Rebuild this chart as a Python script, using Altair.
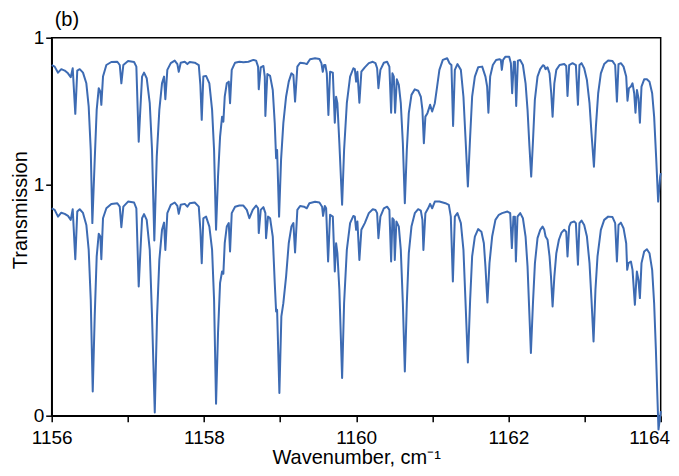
import altair as alt
import pandas as pd

# Lower spectrum: wavenumber (cm-1) and transmission
wn_lower = [1156.000, 1156.039, 1156.083, 1156.126, 1156.171, 1156.214, 1156.250, 1156.276, 1156.310, 1156.336,
            1156.368, 1156.411, 1156.455, 1156.486, 1156.513, 1156.539, 1156.565, 1156.591, 1156.618, 1156.639,
            1156.652, 1156.674, 1156.718, 1156.783, 1156.862, 1156.894, 1156.915, 1156.941, 1157.003, 1157.082,
            1157.112, 1157.143, 1157.164, 1157.187, 1157.213, 1157.248, 1157.288, 1157.318, 1157.354, 1157.384,
            1157.414, 1157.449, 1157.476, 1157.493, 1157.519, 1157.564, 1157.616, 1157.651, 1157.669, 1157.695,
            1157.748, 1157.782, 1157.813, 1157.879, 1157.932, 1157.953, 1157.971, 1157.992, 1158.028, 1158.071,
            1158.107, 1158.133, 1158.159, 1158.185, 1158.212, 1158.238, 1158.255, 1158.273, 1158.300, 1158.326,
            1158.343, 1158.365, 1158.409, 1158.465, 1158.518, 1158.563, 1158.597, 1158.641, 1158.685, 1158.711,
            1158.720, 1158.746, 1158.781, 1158.807, 1158.816, 1158.842, 1158.869, 1158.904, 1158.930, 1158.948,
            1158.961, 1158.991, 1159.017, 1159.043, 1159.079, 1159.114, 1159.149, 1159.175, 1159.197, 1159.227,
            1159.263, 1159.315, 1159.351, 1159.385, 1159.460, 1159.517, 1159.552, 1159.565, 1159.588, 1159.605,
            1159.631, 1159.657, 1159.693, 1159.719, 1159.736, 1159.753, 1159.779, 1159.815, 1159.841, 1159.877,
            1159.920, 1159.963, 1159.982, 1159.999, 1160.016, 1160.042, 1160.068, 1160.113, 1160.166, 1160.218,
            1160.253, 1160.275, 1160.292, 1160.318, 1160.363, 1160.406, 1160.436, 1160.459, 1160.476, 1160.494,
            1160.507, 1160.528, 1160.560, 1160.586, 1160.613, 1160.639, 1160.665, 1160.691, 1160.726, 1160.770,
            1160.814, 1160.849, 1160.870, 1160.883, 1160.909, 1160.945, 1160.971, 1160.998, 1161.033, 1161.093,
            1161.172, 1161.217, 1161.243, 1161.270, 1161.296, 1161.330, 1161.375, 1161.409, 1161.435, 1161.467,
            1161.497, 1161.523, 1161.559, 1161.602, 1161.645, 1161.677, 1161.698, 1161.724, 1161.751, 1161.786,
            1161.829, 1161.874, 1161.917, 1161.987, 1162.023, 1162.045, 1162.066, 1162.085, 1162.098, 1162.119,
            1162.155, 1162.190, 1162.225, 1162.251, 1162.273, 1162.295, 1162.322, 1162.348, 1162.382, 1162.418,
            1162.448, 1162.471, 1162.488, 1162.514, 1162.540, 1162.559, 1162.580, 1162.603, 1162.629, 1162.663,
            1162.697, 1162.733, 1162.759, 1162.776, 1162.798, 1162.820, 1162.864, 1162.886, 1162.913, 1162.933,
            1162.960, 1162.995, 1163.031, 1163.065, 1163.091, 1163.118, 1163.143, 1163.170, 1163.214, 1163.258,
            1163.310, 1163.367, 1163.402, 1163.425, 1163.446, 1163.477, 1163.512, 1163.547, 1163.560, 1163.577,
            1163.609, 1163.630, 1163.661, 1163.687, 1163.708, 1163.727, 1163.748, 1163.783, 1163.819, 1163.853,
            1163.888, 1163.914, 1163.937, 1163.958, 1163.971, 1163.993, 1164.003]
t_lower = [0.896, 0.889, 0.860, 0.877, 0.872, 0.863, 0.846, 0.892, 0.676, 0.882,
           0.892, 0.876, 0.824, 0.716, 0.501, 0.105, 0.429, 0.688, 0.786, 0.774,
           0.676, 0.853, 0.896, 0.915, 0.918, 0.903, 0.814, 0.903, 0.925, 0.921,
           0.896, 0.558, 0.702, 0.853, 0.871, 0.846, 0.716, 0.429, 0.014, 0.429,
           0.673, 0.803, 0.834, 0.716, 0.875, 0.911, 0.921, 0.906, 0.872, 0.911,
           0.915, 0.903, 0.918, 0.921, 0.903, 0.803, 0.659, 0.853, 0.860, 0.817,
           0.716, 0.501, 0.052, 0.358, 0.574, 0.623, 0.613, 0.745, 0.817, 0.832,
           0.709, 0.875, 0.903, 0.908, 0.908, 0.889, 0.853, 0.889, 0.908, 0.896,
           0.789, 0.889, 0.901, 0.875, 0.767, 0.860, 0.853, 0.774, 0.573, 0.450,
           0.457, 0.098, 0.429, 0.486, 0.601, 0.745, 0.817, 0.832, 0.705, 0.889,
           0.906, 0.903, 0.896, 0.918, 0.924, 0.921, 0.903, 0.863, 0.906, 0.896,
           0.666, 0.868, 0.860, 0.623, 0.745, 0.702, 0.544, 0.163, 0.486, 0.716,
           0.832, 0.863, 0.860, 0.803, 0.839, 0.673, 0.803, 0.832, 0.875, 0.892,
           0.889, 0.875, 0.767, 0.860, 0.896, 0.903, 0.889, 0.666, 0.853, 0.846,
           0.673, 0.839, 0.817, 0.716, 0.486, 0.191, 0.486, 0.702, 0.817, 0.875,
           0.892, 0.886, 0.846, 0.716, 0.875, 0.896, 0.915, 0.896, 0.925, 0.925,
           0.918, 0.911, 0.860, 0.580, 0.860, 0.875, 0.832, 0.716, 0.501, 0.230,
           0.501, 0.688, 0.774, 0.806, 0.795, 0.745, 0.644, 0.489, 0.659, 0.774,
           0.846, 0.868, 0.875, 0.882, 0.875, 0.724, 0.860, 0.860, 0.666, 0.860,
           0.875, 0.853, 0.774, 0.644, 0.457, 0.271, 0.486, 0.659, 0.767, 0.803,
           0.817, 0.803, 0.774, 0.760, 0.688, 0.601, 0.472, 0.601, 0.702, 0.760,
           0.791, 0.803, 0.795, 0.688, 0.817, 0.834, 0.839, 0.832, 0.652, 0.832,
           0.843, 0.824, 0.774, 0.659, 0.501, 0.321, 0.544, 0.688, 0.803, 0.846,
           0.860, 0.858, 0.832, 0.666, 0.824, 0.834, 0.810, 0.745, 0.630, 0.659,
           0.666, 0.630, 0.479, 0.623, 0.587, 0.508, 0.659, 0.709, 0.719, 0.702,
           0.630, 0.486, 0.285, 0.069, -0.060, -0.003, 0.020]

# Upper spectrum: wavenumber (cm-1) and transmission (drawn with an offset)
wn_upper = [1156.000, 1156.039, 1156.083, 1156.126, 1156.171, 1156.214, 1156.250, 1156.276, 1156.310, 1156.336,
            1156.368, 1156.411, 1156.455, 1156.486, 1156.513, 1156.534, 1156.547, 1156.565, 1156.591, 1156.618,
            1156.639, 1156.652, 1156.674, 1156.718, 1156.783, 1156.862, 1156.894, 1156.915, 1156.941, 1157.003,
            1157.082, 1157.112, 1157.143, 1157.164, 1157.187, 1157.213, 1157.248, 1157.288, 1157.318, 1157.348,
            1157.380, 1157.414, 1157.449, 1157.476, 1157.493, 1157.519, 1157.564, 1157.616, 1157.651, 1157.669,
            1157.695, 1157.748, 1157.782, 1157.813, 1157.879, 1157.932, 1157.953, 1157.971, 1157.992, 1158.028,
            1158.071, 1158.107, 1158.133, 1158.159, 1158.185, 1158.212, 1158.238, 1158.255, 1158.273, 1158.300,
            1158.326, 1158.343, 1158.365, 1158.409, 1158.465, 1158.518, 1158.584, 1158.649, 1158.685, 1158.711,
            1158.720, 1158.746, 1158.781, 1158.799, 1158.807, 1158.833, 1158.869, 1158.904, 1158.930, 1158.948,
            1158.961, 1158.987, 1159.013, 1159.043, 1159.079, 1159.114, 1159.149, 1159.175, 1159.197, 1159.227,
            1159.263, 1159.315, 1159.351, 1159.394, 1159.460, 1159.517, 1159.543, 1159.561, 1159.578, 1159.595,
            1159.614, 1159.635, 1159.657, 1159.693, 1159.719, 1159.736, 1159.753, 1159.779, 1159.815, 1159.841,
            1159.877, 1159.920, 1159.963, 1159.982, 1159.999, 1160.016, 1160.042, 1160.068, 1160.113, 1160.166,
            1160.218, 1160.253, 1160.275, 1160.292, 1160.318, 1160.363, 1160.406, 1160.436, 1160.459, 1160.476,
            1160.494, 1160.511, 1160.534, 1160.560, 1160.586, 1160.613, 1160.639, 1160.665, 1160.691, 1160.726,
            1160.770, 1160.814, 1160.849, 1160.870, 1160.889, 1160.909, 1160.936, 1160.971, 1160.998, 1161.033,
            1161.063, 1161.093, 1161.138, 1161.195, 1161.225, 1161.251, 1161.273, 1161.296, 1161.330, 1161.375,
            1161.409, 1161.435, 1161.467, 1161.497, 1161.523, 1161.559, 1161.602, 1161.655, 1161.698, 1161.720,
            1161.737, 1161.760, 1161.795, 1161.838, 1161.882, 1161.900, 1161.913, 1161.930, 1161.961, 1162.010,
            1162.032, 1162.049, 1162.071, 1162.085, 1162.102, 1162.124, 1162.154, 1162.190, 1162.225, 1162.251,
            1162.276, 1162.299, 1162.321, 1162.347, 1162.382, 1162.417, 1162.453, 1162.470, 1162.487, 1162.514,
            1162.540, 1162.562, 1162.580, 1162.603, 1162.629, 1162.672, 1162.733, 1162.759, 1162.776, 1162.798,
            1162.842, 1162.886, 1162.913, 1162.933, 1162.960, 1162.995, 1163.031, 1163.065, 1163.091, 1163.123,
            1163.149, 1163.179, 1163.214, 1163.258, 1163.310, 1163.367, 1163.402, 1163.425, 1163.446, 1163.477,
            1163.512, 1163.547, 1163.564, 1163.583, 1163.609, 1163.630, 1163.652, 1163.669, 1163.688, 1163.709,
            1163.727, 1163.748, 1163.783, 1163.819, 1163.853, 1163.888, 1163.914, 1163.940, 1163.967, 1163.993,
            1164.003]
t_upper = [0.882, 0.875, 0.849, 0.864, 0.858, 0.846, 0.829, 0.868, 0.671, 0.858,
           0.864, 0.849, 0.803, 0.702, 0.515, 0.199, 0.314, 0.472, 0.688, 0.782,
           0.767, 0.710, 0.832, 0.882, 0.895, 0.896, 0.882, 0.803, 0.882, 0.899,
           0.895, 0.875, 0.551, 0.688, 0.832, 0.849, 0.825, 0.717, 0.515, 0.124,
           0.486, 0.688, 0.803, 0.832, 0.734, 0.861, 0.890, 0.901, 0.886, 0.853,
           0.892, 0.896, 0.886, 0.895, 0.892, 0.882, 0.796, 0.645, 0.832, 0.835,
           0.803, 0.688, 0.515, 0.170, 0.400, 0.573, 0.659, 0.637, 0.745, 0.803,
           0.810, 0.717, 0.861, 0.892, 0.896, 0.894, 0.896, 0.904, 0.901, 0.875,
           0.777, 0.872, 0.878, 0.832, 0.662, 0.843, 0.835, 0.774, 0.631, 0.479,
           0.515, 0.227, 0.472, 0.631, 0.745, 0.810, 0.846, 0.839, 0.724, 0.875,
           0.892, 0.890, 0.886, 0.907, 0.911, 0.908, 0.890, 0.853, 0.882, 0.882,
           0.846, 0.666, 0.853, 0.849, 0.633, 0.745, 0.717, 0.544, 0.278, 0.515,
           0.717, 0.832, 0.868, 0.864, 0.810, 0.853, 0.719, 0.853, 0.872, 0.890,
           0.896, 0.890, 0.868, 0.782, 0.861, 0.892, 0.896, 0.875, 0.676, 0.846,
           0.832, 0.676, 0.820, 0.796, 0.717, 0.544, 0.285, 0.515, 0.674, 0.753,
           0.777, 0.771, 0.745, 0.688, 0.544, 0.659, 0.674, 0.710, 0.681, 0.717,
           0.789, 0.861, 0.904, 0.911, 0.890, 0.882, 0.619, 0.861, 0.886, 0.861,
           0.745, 0.573, 0.357, 0.573, 0.745, 0.832, 0.872, 0.875, 0.832, 0.789,
           0.676, 0.832, 0.882, 0.904, 0.907, 0.904, 0.861, 0.904, 0.918, 0.918,
           0.890, 0.760, 0.896, 0.896, 0.705, 0.901, 0.904, 0.882, 0.803, 0.688,
           0.530, 0.400, 0.544, 0.731, 0.832, 0.864, 0.881, 0.878, 0.864, 0.872,
           0.846, 0.760, 0.659, 0.803, 0.861, 0.882, 0.886, 0.878, 0.748, 0.882,
           0.890, 0.882, 0.710, 0.882, 0.890, 0.868, 0.817, 0.717, 0.587, 0.443,
           0.616, 0.760, 0.846, 0.886, 0.901, 0.899, 0.882, 0.724, 0.886, 0.890,
           0.875, 0.832, 0.728, 0.782, 0.789, 0.803, 0.760, 0.676, 0.774, 0.738,
           0.633, 0.789, 0.820, 0.820, 0.810, 0.760, 0.659, 0.486, 0.292, 0.400,
           0.415]

upper_offset = 0.633
x_ticks = [1156, 1157, 1158, 1159, 1160, 1161, 1162, 1163, 1164]
y_ticks = [0, 1, 1 + upper_offset]

df = pd.concat([
    pd.DataFrame({"wn": wn_lower, "t": t_lower, "series": "lower", "off": 0.0}),
    pd.DataFrame({"wn": wn_upper, "t": t_upper, "series": "upper", "off": upper_offset}),
], ignore_index=True)
df["y"] = df["t"] + df["off"]

FONT = "Liberation Sans"

chart = alt.Chart(df).mark_line(color="#3d6bb3", strokeWidth=2, strokeJoin="round").encode(
    x=alt.X("wn:Q",
            scale=alt.Scale(domain=[1156, 1164], nice=False, zero=False),
            axis=alt.Axis(values=x_ticks, format="d",
                          labelExpr="datum.value % 2 === 0 ? datum.label : ''",
                          title="Wavenumber, cm\u207b\u00b9", grid=False,
                          tickSize=6, tickColor="black", tickWidth=1.5,
                          domainColor="black", domainWidth=1.5,
                          labelFont=FONT, labelFontSize=19, labelColor="black",
                          labelPadding=7, labelFlush=False,
                          labelAlign={"condition": {"test": "datum.value >= 1164", "value": "right"},
                                      "value": "center"},
                          labelOffset={"condition": {"test": "datum.value >= 1164", "value": 9},
                                       "value": 0},
                          titleFont=FONT, titleFontSize=20, titleFontWeight="normal",
                          titleColor="black", titlePadding=0)),
    y=alt.Y("y:Q",
            scale=alt.Scale(domain=[0, 1 + upper_offset], nice=False, zero=False),
            axis=alt.Axis(values=y_ticks,
                          labelExpr="datum.value == 0 ? '0' : '1'",
                          title="Transmission", grid=False,
                          tickSize=6, tickColor="black", tickWidth=1.5,
                          domainColor="black", domainWidth=1.5,
                          labelFont=FONT, labelFontSize=19, labelColor="black",
                          labelPadding=2, labelFlush=False,
                          titleFont=FONT, titleFontSize=20, titleFontWeight="normal",
                          titleColor="black", titleX=-21, titleY=172)),
    detail="series:N",
    order="wn:Q",
).properties(
    width=609,
    height=378,
    title=alt.TitleParams("(b)", anchor="start", dx=3, dy=10, offset=9, fontSize=20,
                          font=FONT, fontWeight="normal", color="black", frame="group"),
    autosize=alt.AutoSizeParams(type="none"),
    padding={"left": 43.7, "top": 29.7, "right": 10, "bottom": 52},
).configure_view(
    stroke="black", strokeWidth=1.5
)

chart.save("out.html", embed_options={"renderer": "svg", "actions": False})
